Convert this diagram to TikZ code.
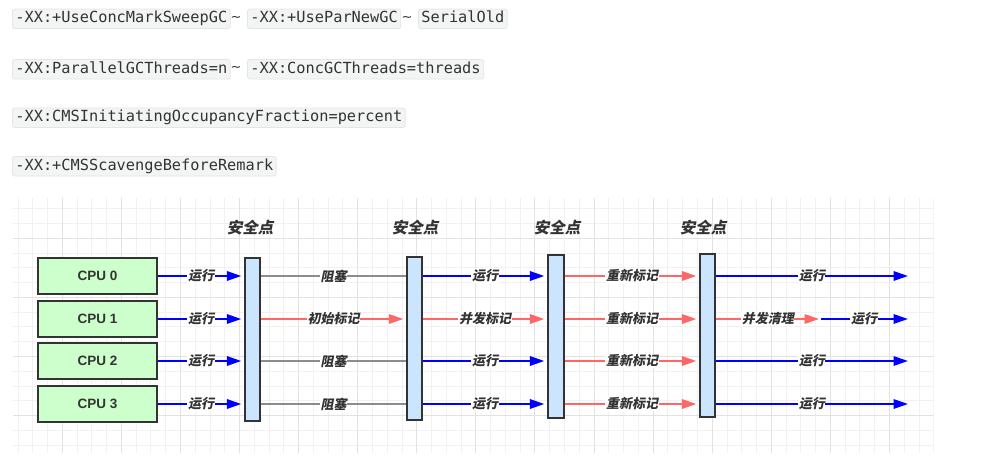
\documentclass[tikz,border=0pt]{standalone}
\usepackage{fontspec}
\setmainfont{Liberation Sans}
\newfontfamily\codefont{DejaVu Sans Mono}
\newfontfamily\tildefont{DejaVu Sans}
\newfontfamily\cjk[FakeSlant=0.2]{Noto Sans CJK SC}
\usetikzlibrary{arrows.meta}
\definecolor{codebg}{HTML}{F3F4F4}
\definecolor{codeborder}{HTML}{E3E6E8}
\definecolor{txt}{HTML}{333333}
\definecolor{cpufill}{HTML}{CCFFCC}
\definecolor{barfill}{HTML}{CCE5FF}
\definecolor{edge}{HTML}{333333}
\definecolor{runblue}{HTML}{0000FF}
\definecolor{gcred}{HTML}{FF6666}
\definecolor{blockgray}{HTML}{8C8C8C}
\definecolor{gridminor}{HTML}{F1F1F1}
\definecolor{gridmajor}{HTML}{E2E2E2}
\begin{document}
\begin{tikzpicture}[x=1pt,y=-1pt,
  code/.style={draw=codeborder, fill=codebg, rounded corners=2.5pt, line width=0.8pt,
    anchor=west, inner xsep=3pt, inner ysep=0pt, text height=11pt, text depth=3.5pt,
    minimum height=19.5pt, font=\codefont\fontsize{15.3pt}{17pt}\selectfont, text=txt},
  tildesty/.style={inner sep=0pt, font=\tildefont\fontsize{13pt}{15pt}\selectfont, text=txt},
  cpu/.style={draw=edge, fill=cpufill, line width=1.4pt, minimum width=119pt, minimum height=36pt,
    inner sep=0pt, font=\bfseries\fontsize{13.5pt}{15pt}\selectfont, text=txt},
  sbar/.style={draw=edge, fill=barfill, line width=1.4pt, minimum width=15pt, minimum height=163pt, inner sep=0pt},
  sp/.style={font=\cjk\bfseries\fontsize{15.5pt}{17pt}\selectfont, text=txt, inner sep=0pt},
  lbl/.style={font=\cjk\bfseries\fontsize{13pt}{15pt}\selectfont, text=txt, fill=white, inner sep=0.6pt},
  tipsty/.style={-{Triangle[length=14.5pt,width=9.5pt]}, shorten >=3pt},
  runline/.style={draw=runblue, line width=1.8pt, tipsty},
  gcline/.style={draw=gcred, line width=1.8pt, tipsty},
  blockline/.style={draw=blockgray, line width=1.6pt},
  minorgrid/.style={draw=gridminor, line width=0.9pt},
  majorgrid/.style={draw=gridmajor, line width=0.9pt}
]
\useasboundingbox (0,0) rectangle (998,471);
\fill[white] (0,0) rectangle (998,471);

% code spans
\node[code] (c1) at (12,18.8) {-XX:+UseConcMarkSweepGC};
\node[tildesty] (t1) at (236,18.8) {\textasciitilde};
\node[code] (c2) at (247,18.8) {-XX:+UseParNewGC};
\node[tildesty] (t2) at (407,18.8) {\textasciitilde};
\node[code] (c3) at (418,18.8) {SerialOld};

\node[code] (c4) at (12,69.3) {-XX:ParallelGCThreads=n};
\node[tildesty] (t3) at (236,69.3) {\textasciitilde};
\node[code] (c5) at (247,69.3) {-XX:ConcGCThreads=threads};

\node[code] (c6) at (12,117.8) {-XX:CMSInitiatingOccupancyFraction=percent};
\node[code] (c7) at (12,166.3) {-XX:+CMSScavengeBeforeRemark};

% grid background
\begin{scope}
\clip (13,198) rectangle (933.5,453);
\foreach \k in {-3,...,59} {
  \pgfmathsetmacro\xx{62.3+14.77*\k}
  \draw[minorgrid] (\xx,198) -- (\xx,453);
}
\foreach \k in {-3,...,15} {
  \pgfmathsetmacro\yy{238.3+14.77*\k}
  \draw[minorgrid] (13,\yy) -- (933.5,\yy);
}
\foreach \k in {0,4,...,56} {
  \pgfmathsetmacro\xx{62.3+14.77*\k}
  \draw[majorgrid] (\xx,198) -- (\xx,453);
}
\foreach \k in {0,4,8,12} {
  \pgfmathsetmacro\yy{238.3+14.77*\k}
  \draw[majorgrid] (13,\yy) -- (933.5,\yy);
}
\end{scope}

% CPUs
\node[cpu] (cpu0) at (97.5,276) {CPU 0};
\node[cpu] (cpu1) at (97.5,319) {CPU 1};
\node[cpu] (cpu2) at (97.5,361) {CPU 2};
\node[cpu] (cpu3) at (97.5,404) {CPU 3};

% safepoint bars
\node[sbar] (b1) at (252.5,339.5) {};
\node[sbar] (b2) at (414.5,338.5) {};
\node[sbar, minimum width=16pt] (b3) at (556,336.5) {};
\node[sbar] (b4) at (707.5,335.5) {};

\node[sp] (s1) at (250,228) {安全点};
\node[sp] (s2) at (415,228) {安全点};
\node[sp] (s3) at (557,228) {安全点};
\node[sp] (s4) at (703,228) {安全点};

% free ends
\coordinate (e0) at (908,276);
\coordinate (e1) at (908,319);
\coordinate (e2) at (908,361);
\coordinate (e3) at (908,404);
\coordinate (m1) at (820,319);

% CPU -> bar1
\foreach \r in {0,1,2,3} {
  \draw[runline] (cpu\r.east) -- node[lbl]{运行} (b1.west |- cpu\r.east);
}
% bar1 -> bar2
\draw[blockline] (b1.east |- cpu0.east) -- node[lbl]{阻塞} (b2.west |- cpu0.east);
\draw[gcline] (b1.east |- cpu1.east) -- node[lbl]{初始标记} (b2.west |- cpu1.east);
\draw[blockline] (b1.east |- cpu2.east) -- node[lbl]{阻塞} (b2.west |- cpu2.east);
\draw[blockline] (b1.east |- cpu3.east) -- node[lbl]{阻塞} (b2.west |- cpu3.east);
% bar2 -> bar3
\draw[runline] (b2.east |- cpu0.east) -- node[lbl]{运行} (b3.west |- cpu0.east);
\draw[gcline] (b2.east |- cpu1.east) -- node[lbl]{并发标记} (b3.west |- cpu1.east);
\draw[runline] (b2.east |- cpu2.east) -- node[lbl]{运行} (b3.west |- cpu2.east);
\draw[runline] (b2.east |- cpu3.east) -- node[lbl]{运行} (b3.west |- cpu3.east);
% bar3 -> bar4
\foreach \r in {0,1,2,3} {
  \draw[gcline] (b3.east |- cpu\r.east) -- node[lbl]{重新标记} (b4.west |- cpu\r.east);
}
% bar4 -> ends
\draw[runline, shorten >=0pt] (b4.east |- cpu0.east) -- node[lbl]{运行} (e0);
\draw[gcline, shorten >=1pt] (b4.east |- cpu1.east) -- node[lbl]{并发清理} (m1);
\draw[runline, shorten >=0pt, shorten <=1pt] (m1) -- node[lbl]{运行} (e1);
\draw[runline, shorten >=0pt] (b4.east |- cpu2.east) -- node[lbl]{运行} (e2);
\draw[runline, shorten >=0pt] (b4.east |- cpu3.east) -- node[lbl]{运行} (e3);
\end{tikzpicture}
\end{document}
